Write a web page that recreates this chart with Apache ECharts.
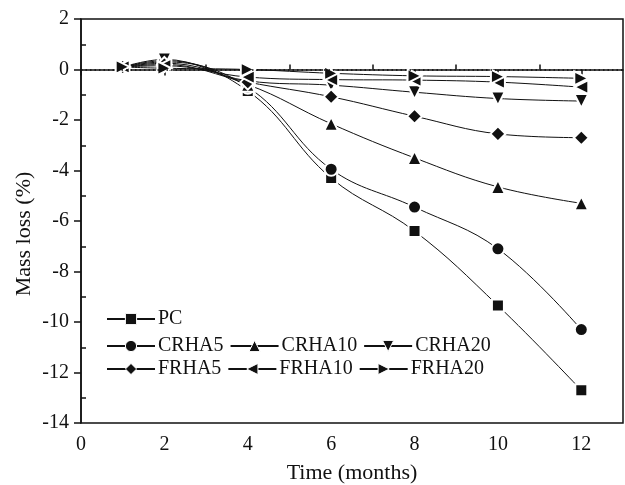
<!DOCTYPE html>
<html>
<head>
<meta charset="utf-8">
<script src="https://cdn.jsdelivr.net/npm/echarts@6/dist/echarts.min.js"></script>
<style>
  html, body { margin: 0; padding: 0; background: #fff; }
  #chart { width: 625px; height: 485px; }
</style>
</head>
<body>
<div id="chart"></div>
<script>
// months and mass loss (%)
const months = [1, 2, 4, 6, 8, 10, 12]
const PC = [0.1, 0.35, -0.85, -4.3, -6.4, -9.35, -12.7]
const CRHA5 = [0.1, 0.3, -0.7, -3.95, -5.45, -7.1, -10.3]
const CRHA10 = [0.1, 0.25, -0.6, -2.15, -3.5, -4.65, -5.3]
const CRHA20 = [0.1, 0.4, -0.45, -0.62, -0.9, -1.15, -1.25]
const FRHA5 = [0.1, 0.2, -0.5, -1.08, -1.85, -2.55, -2.7]
const FRHA10 = [0.1, 0.15, -0.3, -0.4, -0.42, -0.5, -0.7]
const FRHA20 = [0.1, 0.05, 0.0, -0.15, -0.25, -0.28, -0.35]

const font = 'Liberation Serif'
const ink = '#111'

function makeSeries(name, values, symbol, rotate, size) {
  return {
    name: name,
    type: 'line',
    smooth: 0.4,
    data: months.map((m, i) => [m, values[i]]),
    symbol: symbol,
    symbolRotate: rotate,
    symbolSize: size,
    lineStyle: { color: ink, width: 1 },
    itemStyle: { color: ink, borderColor: '#fff', borderWidth: 2 },
    emphasis: { disabled: true },
    z: 3
  }
}

const series = [
  makeSeries('PC', PC, 'rect', 0, 12),
  makeSeries('CRHA5', CRHA5, 'circle', 0, 13),
  makeSeries('CRHA10', CRHA10, 'triangle', 0, 14),
  makeSeries('CRHA20', CRHA20, 'triangle', 180, 14),
  makeSeries('FRHA5', FRHA5, 'diamond', 0, 15),
  makeSeries('FRHA10', FRHA10, 'triangle', 90, 14),
  makeSeries('FRHA20', FRHA20, 'triangle', -90, 14)
]
// dotted zero line
series[0].markLine = {
  silent: true,
  symbol: 'none',
  label: { show: false },
  lineStyle: { color: ink, type: [1.5, 3], width: 1.5 },
  data: [{ yAxis: 0 }]
}

function legendRow(names, top) {
  return {
    data: names,
    left: 106,
    top: top,
    orient: 'horizontal',
    itemWidth: 48,
    itemHeight: 14,
    itemGap: 6,
    padding: 0,
    itemStyle: { borderWidth: 1 },
    textStyle: { fontFamily: font, fontSize: 20, color: ink, padding: [0, 0, 0, -2] }
  }
}

// inward minor ticks drawn by overlay axes (main ticks point outward)
const tickOverlay = {
  axisLine: { show: false },
  axisTick: { show: false, inside: true },
  minorTick: { show: true, splitNumber: 2, length: 5, lineStyle: { color: ink, width: 1.5 } },
  axisLabel: { show: false },
  splitLine: { show: false }
}

const chart = echarts.init(document.getElementById('chart'))
chart.setOption({
  animation: false,
  backgroundColor: '#fff',
  grid: {
    left: 81, right: 2, top: 19, bottom: 62,
    outerBoundsMode: 'none',
    show: true, borderColor: ink, borderWidth: 1.5
  },
  legend: [
    legendRow(['PC'], 309),
    legendRow(['CRHA5', 'CRHA10', 'CRHA20'], 336),
    legendRow(['FRHA5', 'FRHA10', 'FRHA20'], 359)
  ],
  xAxis: [{
    type: 'value',
    min: 0, max: 13, interval: 2,
    name: 'Time (months)',
    nameLocation: 'middle',
    nameGap: 39,
    nameMoveOverlap: false,
    nameTextStyle: { fontFamily: font, fontSize: 22, color: ink },
    axisLine: { lineStyle: { color: ink, width: 1.5 } },
    axisTick: { inside: false, length: 6, lineStyle: { color: ink, width: 1.5 } },
    axisLabel: { fontFamily: font, fontSize: 20, color: ink, margin: 12, showMaxLabel: false },
    splitLine: { show: false }
  }, Object.assign({
    type: 'value', position: 'bottom', offset: 0,
    min: 0, max: 13, interval: 2
  }, tickOverlay)],
  yAxis: [{
    type: 'value',
    min: -14, max: 2, interval: 2,
    name: 'Mass loss (%)',
    nameLocation: 'middle',
    nameGap: 46,
    nameMoveOverlap: false,
    nameTextStyle: { fontFamily: font, fontSize: 22, color: ink, padding: [0, 26, 0, 0] },
    axisLine: { lineStyle: { color: ink, width: 1.5 } },
    axisTick: { inside: false, length: 7, lineStyle: { color: ink, width: 1.5 } },
    axisLabel: { fontFamily: font, fontSize: 20, color: ink, margin: 12 },
    splitLine: { show: false }
  }, Object.assign({
    type: 'value', position: 'left', offset: 0,
    min: -14, max: 2, interval: 2
  }, tickOverlay)],
  series: series
})
</script>
</body>
</html>
